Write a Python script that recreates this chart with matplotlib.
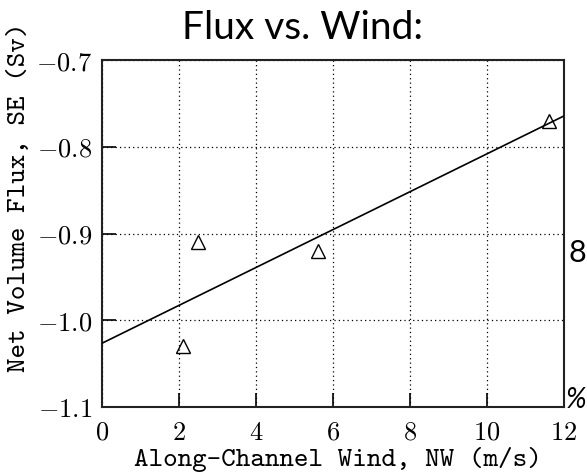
import os
import numpy as np
import matplotlib
matplotlib.use("Agg")
import matplotlib.pyplot as plt
from matplotlib.ticker import FuncFormatter
from matplotlib.font_manager import FontProperties

plt.rcParams['mathtext.fontset'] = 'cm'
tt = FontProperties(fname=os.path.join(matplotlib.get_data_path(), 'fonts', 'ttf', 'cmtt10.ttf'),
                    size=20)

# Data
wind = [2.1, 2.5, 5.6, 11.6]
flux = [-1.03, -0.91, -0.92, -0.77]
xticks = [0, 2, 4, 6, 8, 10, 12]
yticks = [-1.1, -1.0, -0.9, -0.8, -0.7]

fig = plt.figure(figsize=(5.87, 4.74), dpi=100)
W, H = 587, 474
ax = fig.add_axes([102 / W, 1 - 407 / H, (564 - 102) / W, (407 - 60) / H])

# regression line
slope, inter = np.polyfit(wind, flux, 1)
xl = np.array([0, 12])
ax.plot(xl, inter + slope * xl, color='black', lw=1.2, zorder=3)
ax.plot(wind, flux, linestyle='none', marker='^', markersize=9.5,
        markerfacecolor='none', markeredgecolor='black', markeredgewidth=1.0, zorder=4)

ax.set_xlim(0, 12)
ax.set_ylim(-1.1, -0.7)
ax.set_xticks(xticks)
ax.set_yticks(yticks)
ax.xaxis.set_major_formatter(FuncFormatter(lambda v, p: r'$\mathrm{%d}$' % v))
ax.yaxis.set_major_formatter(FuncFormatter(lambda v, p: r'$\mathrm{%.1f}$' % v))
ax.tick_params(direction='in', length=10, width=1.2, labelsize=19,
               top=False, right=False)
ax.tick_params(axis='x', pad=9)
ax.tick_params(axis='y', pad=7)
ax.grid(True, linestyle=(0, (1, 2.5)), color='black', linewidth=0.9)
for s in ax.spines.values():
    s.set_linewidth(1.5)
    s.set_color('#222222')

fig.text(338 / W, 8 / H, 'Along-Channel Wind, NW (m/s)', fontproperties=tt,
         ha='center', va='baseline')
fig.text(20 / W, 1 - 197 / H, 'Net Volume Flux, SE (Sv)', fontproperties=tt,
         ha='center', va='center', rotation=90)

fig.text(303 / W, 1 - 28 / H, 'Flux vs. Wind:', family='Lato', fontsize=28,
         ha='center', va='center')
fig.text(586 / W, 1 - 253 / H, '8', family='Lato', fontsize=22, ha='right', va='center')
fig.text(586 / W, 1 - 400 / H, '%', family='Lato', fontsize=20, ha='right', va='center',
         style='italic')

fig.savefig('out.png', dpi=100)
